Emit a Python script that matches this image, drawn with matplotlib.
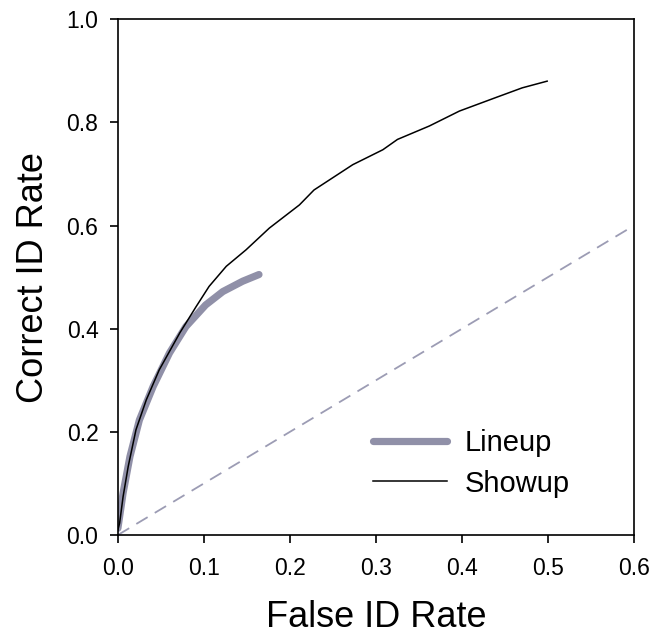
import matplotlib
matplotlib.use('Agg')
import matplotlib.pyplot as plt

plt.rcParams['font.family'] = ['Liberation Sans', 'DejaVu Sans']

# showup ROC
showup_x = [0.0, 0.002, 0.006, 0.012, 0.021, 0.033, 0.048, 0.072, 0.091, 0.106,
            0.126, 0.149, 0.176, 0.211, 0.228, 0.273, 0.308, 0.325, 0.362,
            0.397, 0.439, 0.470, 0.499]
showup_y = [0.01, 0.023, 0.074, 0.133, 0.204, 0.262, 0.320, 0.392, 0.443, 0.482,
            0.521, 0.553, 0.595, 0.640, 0.669, 0.718, 0.747, 0.767, 0.793,
            0.822, 0.848, 0.867, 0.880]

# lineup ROC
lineup_x = [0.0, 0.006, 0.014, 0.025, 0.041, 0.060, 0.079, 0.102, 0.122, 0.145, 0.164]
lineup_y = [0.013, 0.081, 0.152, 0.223, 0.288, 0.353, 0.404, 0.446, 0.472, 0.492, 0.505]

chance = [0.0, 0.6]

fig = plt.figure(figsize=(6.55, 6.42), dpi=100)
ax = fig.add_axes([0.180, 0.1667, 0.788, 0.8033])

ax.plot(chance, chance, color='#9c9cb4', lw=1.3, dashes=(7.3, 4.6))
ax.plot(lineup_x, lineup_y, color='#9090a8', lw=5.2, solid_capstyle='round', label='Lineup')
ax.plot(showup_x, showup_y, color='black', lw=1.1, label='Showup')

ax.set_xlim(0, 0.6)
ax.set_ylim(0, 1.0)
ax.set_xticks([0, 0.1, 0.2, 0.3, 0.4, 0.5, 0.6])
ax.set_yticks([0, 0.2, 0.4, 0.6, 0.8, 1.0])
ax.set_xticklabels(['0.0', '0.1', '0.2', '0.3', '0.4', '0.5', '0.6'])
ax.set_yticklabels(['0.0', '0.2', '0.4', '0.6', '0.8', '1.0'])
ax.tick_params(direction='out', length=6, width=1.2, labelsize=16.5)
ax.tick_params(axis='x', pad=10)
ax.tick_params(axis='y', pad=8)
for s in ax.spines.values():
    s.set_linewidth(1.2)

ax.set_xlabel('False ID Rate', fontsize=26, labelpad=14)
ax.set_ylabel('Correct ID Rate', fontsize=26, labelpad=11)

ax.legend(loc='upper left', bbox_to_anchor=(0.494, 0.205), frameon=False,
          fontsize=21, handlelength=2.55, handletextpad=0.6, labelspacing=0.42,
          borderpad=0, borderaxespad=0)

fig.savefig('out.png')
